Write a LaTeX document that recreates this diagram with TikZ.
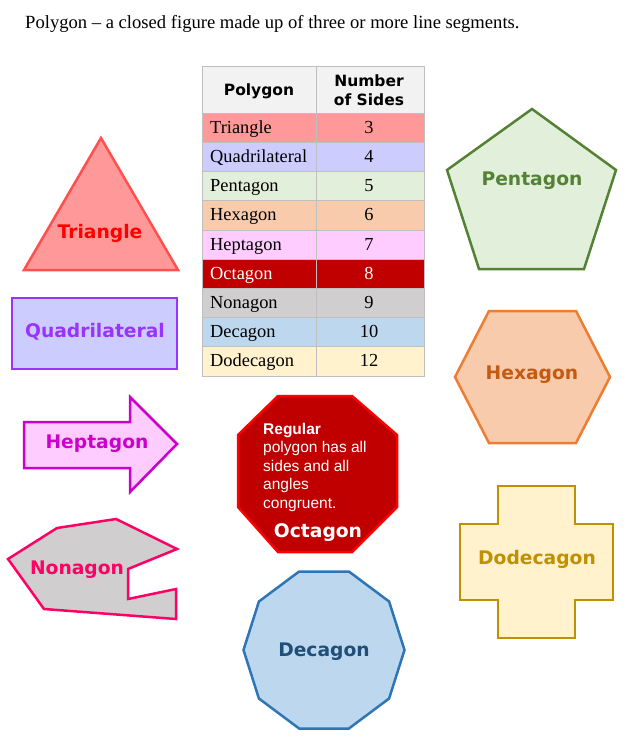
\documentclass[tikz,border=0pt]{standalone}
\usepackage{fontspec}
\setmainfont{Liberation Serif}
\newfontfamily\verdfont{DejaVu Sans}
\newfontfamily\arialfont{Liberation Sans}
\usepackage{tikz}
\usetikzlibrary{positioning, calc}

\definecolor{triF}{HTML}{FF9999}
\definecolor{triD}{HTML}{FF5050}
\definecolor{triT}{HTML}{FF0000}
\definecolor{quadF}{HTML}{CCCCFF}
\definecolor{quadD}{HTML}{9933FF}
\definecolor{pentF}{HTML}{E2EFDA}
\definecolor{pentD}{HTML}{548235}
\definecolor{hexF}{HTML}{F8CBAD}
\definecolor{hexD}{HTML}{ED7D31}
\definecolor{hexT}{HTML}{C55A11}
\definecolor{hepF}{HTML}{FFCCFF}
\definecolor{hepD}{HTML}{CC00CC}
\definecolor{octF}{HTML}{C00000}
\definecolor{octD}{HTML}{FF0000}
\definecolor{nonF}{HTML}{D0CECE}
\definecolor{nonD}{HTML}{FF0066}
\definecolor{decF}{HTML}{BDD7EE}
\definecolor{decD}{HTML}{2E75B6}
\definecolor{decT}{HTML}{1F4E79}
\definecolor{dodF}{HTML}{FFF2CC}
\definecolor{dodD}{HTML}{BF9000}
\definecolor{headF}{HTML}{F2F2F2}
\definecolor{gridC}{HTML}{BFBFBF}

\tikzset{
  shapeline/.style={line width=2.5pt, line join=miter},
  lab/.style={font=\verdfont\bfseries\fontsize{18.7}{22}\selectfont, inner sep=0pt},
  tabtext/.style={font=\fontsize{18.4}{20}\selectfont, inner sep=0pt},
  tabhead/.style={font=\verdfont\bfseries\fontsize{15.5}{19}\selectfont, align=center, inner sep=0pt},
  octtext/.style={font=\arialfont\fontsize{15.5}{18.5}\selectfont, text=white, anchor=base west, inner sep=0pt}
}

\begin{document}
\begin{tikzpicture}[x=1pt, y=-1pt]
\useasboundingbox (0,0) rectangle (632,751);
\fill[white] (0,0) rectangle (632,751);

% title
\node[anchor=base west, inner sep=0pt, font=\fontsize{18.6}{22}\selectfont] (title) at (25,29)
  {Polygon -- a closed figure made up of three or more line segments.};

% table
\fill[headF] (202,66) rectangle (424,113);
\node[tabhead] (hpoly) at (259,91) {Polygon};
\node[tabhead] (hsides) at (369,90) {Number\\of Sides};
\foreach \nm/\num/\col/\tc [count=\i] in {Triangle/3/triF/black, Quadrilateral/4/quadF/black,
    Pentagon/5/pentF/black, Hexagon/6/hexF/black, Heptagon/7/hepF/black, Octagon/8/octF/white,
    Nonagon/9/nonF/black, Decagon/10/decF/black, Dodecagon/12/dodF/black}{
  \fill[\col] (202,{113+(\i-1)*29.2}) rectangle (424,{113+\i*29.2});
  \node[tabtext, text=\tc, anchor=base west] (row\i) at (210,{113+\i*29.2-9}) {\nm};
  \node[tabtext, text=\tc, anchor=base] (num\i) at (369,{113+\i*29.2-9}) {\num};
}
\foreach \i in {0,...,9}
  \draw[gridC] (202,{113+\i*29.2}) -- (424,{113+\i*29.2});
\draw[gridC] (202,66) rectangle (424,376);
\draw[gridC] (316,66) -- (316,376);

% triangle
\draw[shapeline, triD, fill=triF] (101,138) -- (178,270) -- (24,270) -- cycle;
\node[lab, text=triT] (tri) at (100,233) {Triangle};

% quadrilateral
\draw[shapeline, quadD, fill=quadF] (12,298) rectangle (177,369);
\node[lab, text=quadD] (quad) at (95,332) {Quadrilateral};

% heptagon
\draw[shapeline, hepD, fill=hepF] (24,422) -- (130,422) -- (130,397) -- (177,444)
  -- (130,492) -- (130,468) -- (24,468) -- cycle;
\node[lab, text=hepD] (hep) at (97,444) {Heptagon};

% nonagon
\draw[shapeline, nonD, fill=nonF] (8,559) -- (57,528) -- (116,519) -- (177,549) -- (128,569)
  -- (128,599) -- (176,589) -- (176,619) -- (44,609) -- cycle;
\node[lab, text=nonD] (non) at (77,570) {Nonagon};

% octagon
\draw[shapeline, octD, fill=octF] (278,396) -- (352,396) -- (397,435) -- (397,507) -- (352,552)
  -- (278,552) -- (238,507) -- (238,435) -- cycle;
\node[octtext, font=\arialfont\bfseries\fontsize{15.5}{18.5}\selectfont] (oct1) at (263,434) {Regular};
\node[octtext] (oct2) at (263,452.5) {polygon has all};
\node[octtext] (oct3) at (263,471) {sides and all};
\node[octtext] (oct4) at (263,489.5) {angles};
\node[octtext] (oct5) at (263,508) {congruent.};
\node[lab, text=white] (oct) at (318,533) {Octagon};

% pentagon
\draw[shapeline, pentD, fill=pentF] (532,109) -- (616,170) -- (584,269) -- (479,269) -- (447,170) -- cycle;
\node[lab, text=pentD] (pent) at (532,181) {Pentagon};

% hexagon
\draw[shapeline, hexD, fill=hexF] (489,311) -- (576,311) -- (610,377) -- (576,443) -- (489,443)
  -- (455,377) -- cycle;
\node[lab, text=hexT] (hex) at (532,375) {Hexagon};

% dodecagon
\draw[shapeline, dodD, fill=dodF] (498,486) -- (575,486) -- (575,524) -- (613,524) -- (613,600)
  -- (575,600) -- (575,638) -- (498,638) -- (498,600) -- (460,600) -- (460,524) -- (498,524) -- cycle;
\node[lab, text=dodD] (dod) at (537,559) {Dodecagon};

% decagon
\draw[shapeline, decD, fill=decF] (404.5,650) -- (389.1,601.5) -- (348.9,571.5) -- (299.1,571.5)
  -- (258.9,601.5) -- (243.5,650) -- (258.9,698.5) -- (299.1,728.5) -- (348.9,728.5)
  -- (389.1,698.5) -- cycle;
\node[lab, text=decT] (dec) at (324,652) {Decagon};
\end{tikzpicture}
\end{document}
